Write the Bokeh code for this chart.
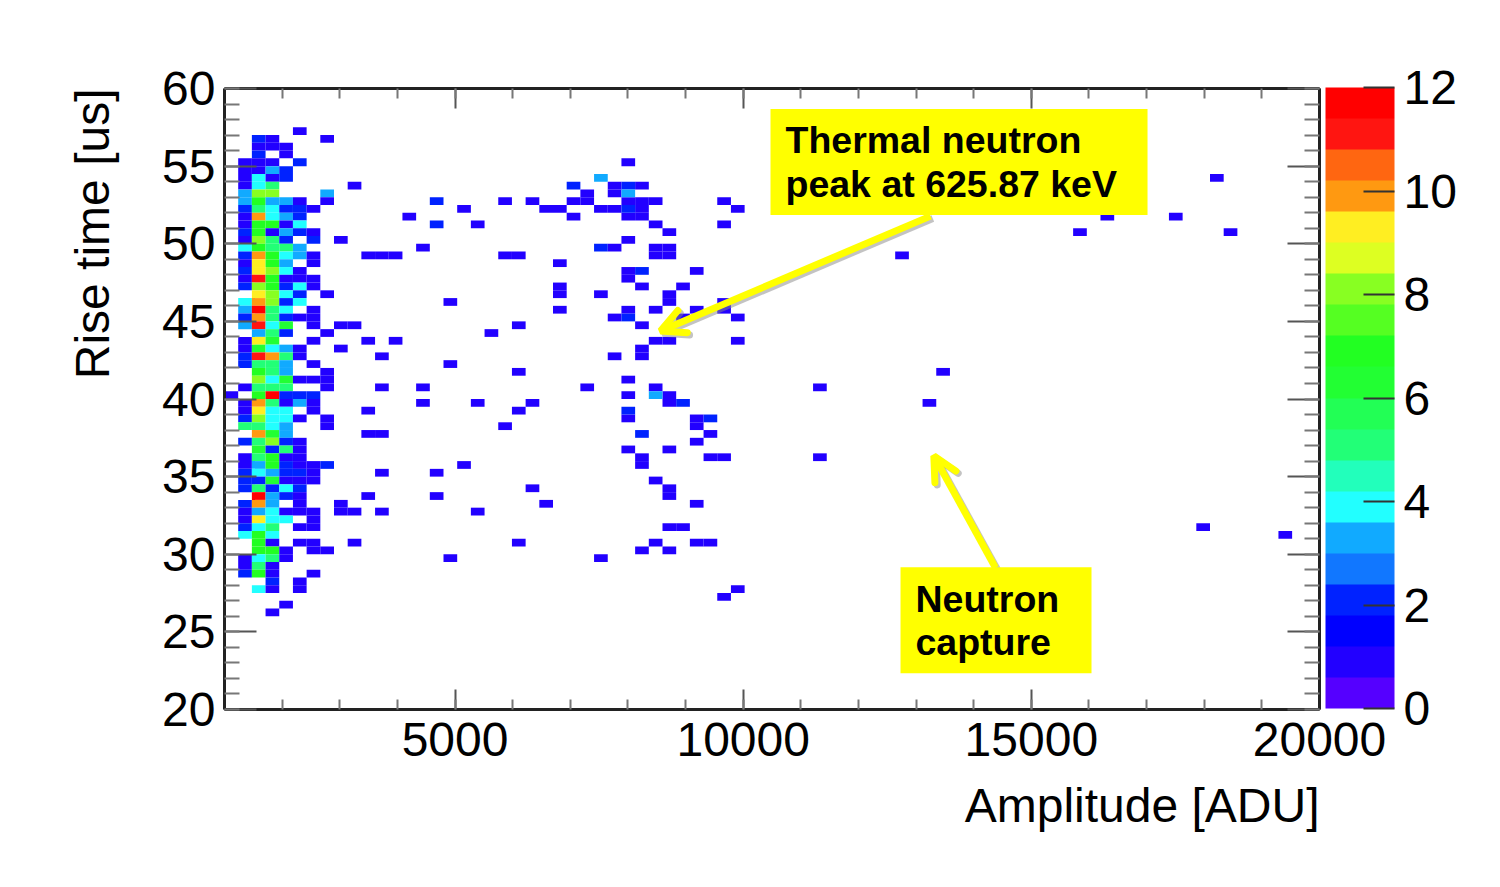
import numpy as np

from bokeh.embed import file_html
from bokeh.models import (Arrow, BoxAnnotation, ColorBar, ColumnDataSource, FixedTicker, Label,
                          LinearAxis, LinearColorMapper, OpenHead, Title)
from bokeh.plotting import figure
from bokeh.resources import INLINE

# histogram binning, 80 x 80 bins
amp_edges = np.linspace(1000, 20000, 81)
rise_edges = np.linspace(60, 20, 81)  # bin 0 is the top row

# counts of the first ten amplitude bins, one row per rise bin, from rise bin 5 on
low_amp_first_row = 5
low_amp_counts = [
    [0, 0, 0, 0, 0, 1, 0, 0, 0, 0],
    [0, 0, 2, 1, 0, 0, 0, 1, 0, 0],
    [0, 0, 1, 1, 1, 0, 0, 0, 0, 0],
    [0, 0, 2, 0, 1, 0, 0, 0, 0, 0],
    [0, 1, 1, 1, 0, 2, 0, 0, 0, 0],
    [0, 1, 1, 3, 2, 0, 0, 0, 0, 0],
    [0, 1, 4, 1, 2, 0, 0, 0, 0, 0],
    [0, 1, 4, 5, 0, 0, 0, 0, 0, 1],
    [0, 3, 8, 8, 0, 0, 0, 3, 0, 0],
    [0, 3, 7, 3, 3, 1, 0, 1, 0, 0],
    [0, 2, 5, 4, 2, 2, 1, 0, 0, 0],
    [0, 1, 10, 4, 3, 2, 0, 0, 0, 0],
    [0, 1, 7, 7, 1, 4, 0, 0, 0, 0],
    [0, 2, 7, 1, 3, 2, 1, 0, 0, 0],
    [0, 1, 8, 5, 2, 0, 2, 0, 1, 0],
    [0, 4, 7, 5, 5, 3, 0, 0, 0, 0],
    [0, 2, 10, 7, 4, 3, 1, 0, 0, 0],
    [0, 1, 9, 7, 3, 0, 1, 0, 0, 0],
    [0, 2, 9, 8, 4, 1, 0, 0, 0, 0],
    [0, 1, 11, 7, 1, 1, 1, 0, 0, 0],
    [0, 2, 8, 7, 2, 4, 1, 0, 0, 0],
    [0, 0, 9, 8, 4, 2, 0, 1, 0, 0],
    [0, 4, 10, 8, 2, 4, 0, 0, 0, 0],
    [0, 3, 12, 5, 4, 0, 1, 0, 0, 0],
    [0, 2, 10, 5, 2, 1, 1, 0, 0, 0],
    [0, 3, 11, 4, 6, 0, 1, 0, 1, 1],
    [0, 0, 3, 5, 2, 0, 0, 1, 0, 0],
    [0, 1, 9, 6, 0, 0, 1, 0, 0, 0],
    [0, 1, 6, 4, 3, 1, 0, 0, 1, 0],
    [0, 2, 11, 10, 5, 1, 0, 0, 0, 0],
    [0, 2, 5, 5, 3, 0, 1, 0, 0, 0],
    [0, 0, 7, 5, 3, 0, 0, 1, 0, 0],
    [0, 0, 8, 4, 6, 1, 1, 1, 0, 0],
    [0, 1, 5, 5, 5, 0, 0, 1, 0, 0],
    [1, 0, 7, 12, 2, 2, 2, 0, 0, 0],
    [0, 1, 10, 5, 1, 3, 1, 0, 0, 0],
    [0, 1, 9, 4, 4, 0, 1, 0, 0, 0],
    [0, 2, 8, 4, 4, 1, 0, 1, 0, 0],
    [0, 5, 5, 4, 3, 0, 0, 1, 0, 0],
    [0, 0, 10, 6, 3, 0, 0, 0, 0, 0],
    [0, 2, 5, 8, 2, 1, 0, 0, 0, 0],
    [0, 0, 6, 2, 5, 1, 0, 0, 0, 0],
    [0, 1, 5, 7, 1, 1, 0, 0, 0, 0],
    [0, 1, 3, 7, 2, 1, 1, 2, 0, 0],
    [0, 2, 4, 3, 2, 2, 1, 0, 0, 0],
    [0, 2, 2, 6, 1, 1, 1, 0, 0, 0],
    [0, 2, 5, 2, 4, 2, 0, 0, 0, 0],
    [0, 0, 12, 3, 2, 1, 0, 0, 0, 0],
    [0, 2, 10, 3, 0, 1, 0, 0, 1, 0],
    [0, 1, 3, 4, 1, 1, 1, 0, 1, 1],
    [0, 1, 9, 4, 4, 0, 1, 0, 0, 0],
    [0, 2, 4, 5, 0, 1, 1, 0, 0, 0],
    [0, 4, 7, 4, 0, 0, 0, 0, 0, 0],
    [0, 0, 7, 1, 0, 1, 1, 0, 0, 1],
    [0, 0, 7, 7, 1, 0, 1, 1, 0, 0],
    [0, 1, 4, 5, 1, 0, 0, 0, 0, 0],
    [0, 1, 5, 1, 0, 0, 0, 0, 0, 0],
    [0, 2, 7, 1, 0, 0, 1, 0, 0, 0],
    [0, 0, 0, 2, 0, 1, 0, 0, 0, 0],
    [0, 0, 4, 1, 0, 1, 0, 0, 0, 0],
    [0, 0, 0, 0, 0, 0, 0, 0, 0, 0],
    [0, 0, 0, 0, 1, 0, 0, 0, 0, 0],
    [0, 0, 0, 1, 0, 0, 0, 0, 0, 0],
]

# scattered single counts above amplitude bin 9: rise bin -> amplitude bins
single_cells = {
    9: [29], 11: [72], 12: [28, 30], 13: [28, 26],
    14: [20, 22, 25, 26, 29, 30, 31, 36],
    15: [17, 23, 24, 27, 28, 30, 37],
    16: [13, 25, 29, 30, 64, 69],
    17: [18, 31, 36], 18: [32, 62, 73], 19: [29], 20: [14, 28, 31, 32],
    21: [10, 11, 12, 20, 21, 31, 32, 49],
    22: [24], 23: [29, 34], 24: [29], 25: [30, 33, 24], 26: [24, 27, 32], 27: [32, 16, 36],
    28: [36, 24, 29, 31, 34], 29: [28, 33, 37], 30: [21, 30], 31: [19],
    32: [10, 12, 31, 32, 37], 33: [30], 34: [30, 11, 28], 35: [16], 36: [21, 52], 37: [29],
    38: [11, 14, 26, 31, 43], 39: [29, 32], 40: [32, 14, 18, 22, 51], 41: [10, 21],
    42: [29, 34], 43: [34, 20], 44: [10, 11, 35], 45: [34], 46: [29, 32],
    47: [30, 35, 36, 43], 48: [30, 17], 49: [11, 15], 50: [31], 51: [32, 22],
    52: [32, 10, 15], 53: [23, 34], 54: [11, 18], 56: [32, 33, 71], 57: [77],
    58: [21, 31, 34, 35], 59: [30, 32], 60: [16, 27], 64: [37], 65: [36],
}

# scattered cells with a higher count
multi_amp_bin = [27, 25, 29, 29, 15, 29, 15, 27, 30, 29, 31, 33, 29, 35, 30]
multi_rise_bin = [11, 12, 12, 13, 14, 15, 17, 20, 23, 29, 39, 40, 41, 42, 44]
multi_count = [3, 2, 2, 3, 2, 2, 2, 2, 2, 2, 3, 2, 2, 2, 2]

contour_colors = [
    "#5500ff", "#2200ff", "#0000ff", "#0022ff", "#1177ff", "#11aaff", "#22ffff",
    "#22ffbb", "#22ff77", "#22ff55", "#22ff33", "#22ff22", "#55ff22", "#88ff22",
    "#ddff22", "#ffee22", "#ff9911", "#ff6611", "#ff1511", "#ff0000",
]
bar_ticks = [0, 2, 4, 6, 8, 10, 12]

x_major = [5000, 10000, 15000, 20000]
x_minor = list(range(1000, 20001, 1000))
y_major = [20, 25, 30, 35, 40, 45, 50, 55, 60]
y_minor = list(range(20, 61))

# flatten everything to one table of cells
bin_x, bin_y, bin_n = [], [], []
for r, row in enumerate(low_amp_counts):
    for c, n in enumerate(row):
        if n > 0:
            bin_x.append(c)
            bin_y.append(low_amp_first_row + r)
            bin_n.append(n)
for rise_bin, amp_bins in single_cells.items():
    for a in amp_bins:
        bin_x.append(a)
        bin_y.append(rise_bin)
        bin_n.append(1)
bin_x += multi_amp_bin
bin_y += multi_rise_bin
bin_n += multi_count
bin_x = np.array(bin_x)
bin_y = np.array(bin_y)

source = ColumnDataSource(data=dict(left=amp_edges[bin_x], right=amp_edges[bin_x + 1],
                                    top=rise_edges[bin_y], bottom=rise_edges[bin_y + 1],
                                    count=bin_n))
mapper = LinearColorMapper(palette=contour_colors, low=0, high=12)

FONT = "Liberation Sans"

p = figure(frame_width=1095, frame_height=621, x_range=(1000, 20000), y_range=(20, 60),
           output_backend="svg", toolbar_location=None, tools="",
           min_border_left=224, min_border_top=88, min_border_right=150, min_border_bottom=130,
           background_fill_color="white", border_fill_color="white")
p.grid.grid_line_color = None
p.outline_line_color = None

p.quad(left="left", right="right", top="top", bottom="bottom", source=source,
       fill_color={"field": "count", "transform": mapper}, line_color=None)


def style_axis(axis, major, minor, major_len, minor_len):
    axis.ticker = FixedTicker(ticks=major, minor_ticks=minor)
    axis.axis_line_color = "#222222"
    axis.axis_line_width = 3
    axis.major_tick_in = major_len
    axis.major_tick_out = 0
    axis.minor_tick_in = minor_len
    axis.minor_tick_out = 0
    axis.major_tick_line_color = "#555555"
    axis.major_tick_line_width = 2
    axis.minor_tick_line_color = "#777777"
    axis.minor_tick_line_width = 2


xaxis = p.xaxis[0]
yaxis = p.yaxis[0]
style_axis(xaxis, x_major, x_minor, 20, 10)
style_axis(yaxis, y_major, y_minor, 32, 15)
for axis in (xaxis, yaxis):
    axis.major_label_text_font = FONT
    axis.major_label_text_font_size = "48px"
    axis.major_label_text_color = "black"
xaxis.major_label_standoff = 13
yaxis.major_label_standoff = 9
yaxis.major_label_orientation = "horizontal"

# mirrored ticks on the top and right, no labels
top_axis = LinearAxis()
right_axis = LinearAxis()
style_axis(top_axis, x_major, x_minor, 20, 10)
style_axis(right_axis, y_major, y_minor, 32, 15)
top_axis.major_label_overrides = {t: "" for t in x_major}
right_axis.major_label_overrides = {t: "" for t in y_major}
for axis in (top_axis, right_axis):
    axis.major_label_standoff = 0
p.add_layout(top_axis, "above")
p.add_layout(right_axis, "right")

bar = ColorBar(color_mapper=mapper, ticker=FixedTicker(ticks=bar_ticks), width=69,
               height=621, padding=6, margin=0, location=(0, -5),
               major_tick_in=31, major_tick_out=0, major_tick_line_color="#333333",
               major_tick_line_width=2, minor_tick_line_color=None, bar_line_color=None,
               border_line_color=None, background_fill_color=None,
               major_label_text_font=FONT, major_label_text_font_size="48px",
               major_label_text_color="black", label_standoff=9)
p.add_layout(bar, "right")

# axis titles sit at the far end of each axis, as side titles so they are not clipped
p.add_layout(Title(text="Amplitude [ADU]", align="right", text_font=FONT, text_font_size="48px",
                   text_font_style="normal", text_color="black", standoff=36), "below")
p.add_layout(Title(text="Rise time [us]", align="right", text_font=FONT, text_font_size="48px",
                   text_font_style="normal", text_color="black", standoff=82), "left")

# arrows under the yellow boxes, with a soft shadow
arrow_tails = [(13250, 51.78), (14378, 29.13)]
arrow_tips = [(8565, 44.38), (13308, 36.34)]
for (x0, y0), (x1, y1) in zip(arrow_tails, arrow_tips):
    p.add_layout(Arrow(x_start=x0 + 40, y_start=y0 - 0.15, x_end=x1 + 40, y_end=y1 - 0.15,
                       line_color="#888888", line_alpha=0.5, line_width=7,
                       end=OpenHead(size=24, line_color="#888888", line_alpha=0.5, line_width=7,
                                    line_cap="round")))
    p.add_layout(Arrow(x_start=x0, y_start=y0, x_end=x1, y_end=y1,
                       line_color="#ffff00", line_width=7,
                       end=OpenHead(size=24, line_color="#ffff00", line_width=7, line_cap="round")))

p.add_layout(BoxAnnotation(left=10474, right=17016, top=58.68, bottom=51.85, fill_color="#ffff00",
                           fill_alpha=1, line_color=None))
p.add_layout(BoxAnnotation(left=12730, right=16044, top=29.17, bottom=22.34, fill_color="#ffff00",
                           fill_alpha=1, line_color=None))

notes = [("Thermal neutron", 10734, 56.66), ("peak at 625.87 keV", 10734, 53.83),
         ("Neutron", 12990, 27.13), ("capture", 12990, 24.34)]
for txt, nx, ny in notes:
    p.add_layout(Label(x=nx, y=ny, text=txt, text_font=FONT, text_font_size="37.5px",
                       text_font_style="bold", text_color="black", text_baseline="alphabetic"))

open("out.html", "w").write(file_html(p, INLINE))
